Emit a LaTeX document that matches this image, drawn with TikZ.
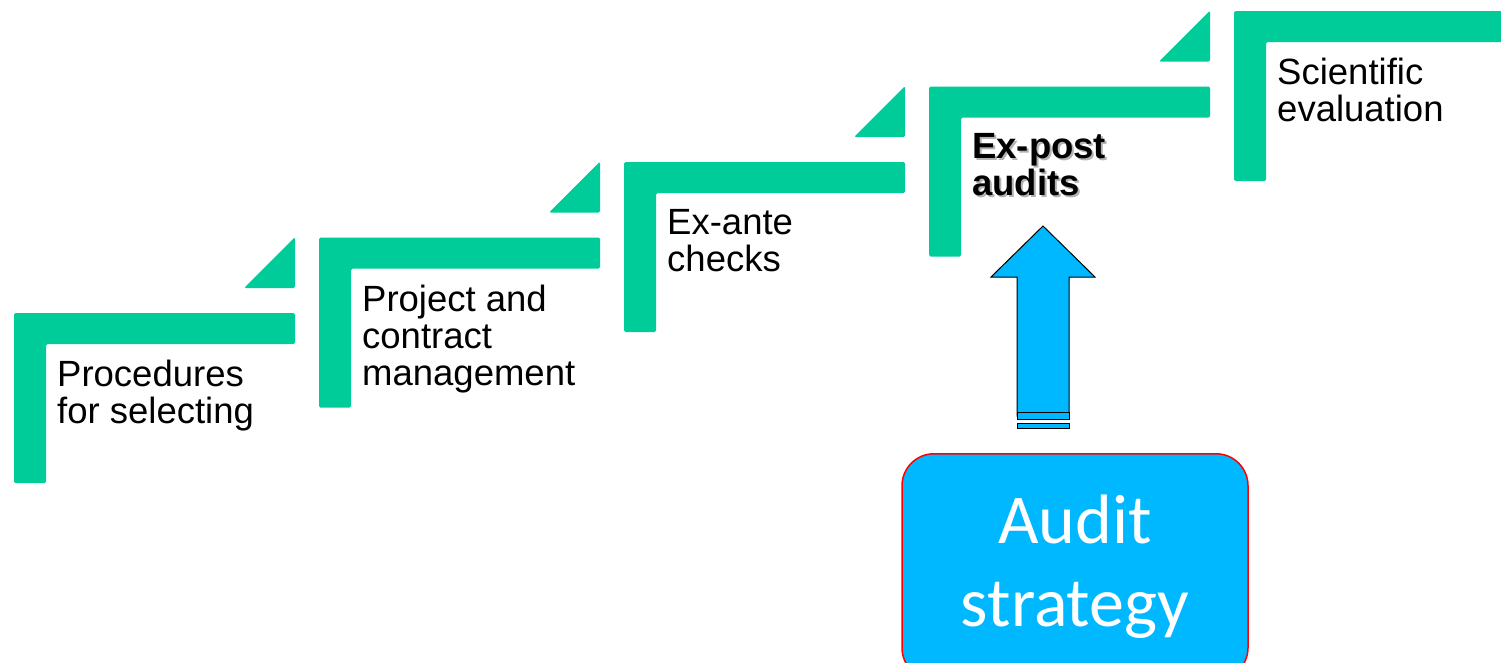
\documentclass[tikz,border=0pt]{standalone}
\usepackage{fontspec}
\setmainfont{Liberation Sans}
\newfontfamily\boxfont{Carlito}
\usetikzlibrary{positioning,calc}
\definecolor{stepgreen}{RGB}{0,204,153}
\definecolor{auditblue}{RGB}{0,184,255}

\begin{document}
\begin{tikzpicture}[x=1pt, y=-1pt,
    stepbar/.style = {fill=stepgreen, rounded corners=1.5pt},
    stair/.pic = {
        \fill[stepbar] (0,0) -- ++(281,0) -- ++(0,31) -- ++(-249,0) -- ++(0,139) -- ++(-32,0) -- cycle;
        \fill[stepbar] (281,-76) -- ++(0,51) -- ++(-51,0) -- cycle;
    },
    steptext/.style = {anchor=north west, inner sep=0pt, align=left, font=\fontsize{36.5}{37}\selectfont},
    stratbox/.style = {anchor=north, draw=red, line width=1.5pt, fill=auditblue, rounded corners=32pt,
        minimum width=346pt, minimum height=226pt, inner sep=0pt, align=center, text=white,
        font=\boxfont\fontsize{70}{83}\selectfont},
    arrowfill/.style = {draw=black, line width=1pt, fill=auditblue}]
    \clip (0,0) rectangle (1501,662);
    % the stairs
    \pic at (14,313) {stair};
    \pic at (319,237.5) {stair};
    \pic at (624,162) {stair};
    \pic at (929,86.5) {stair};
    \pic at (1234,11) {stair};
    \node[steptext] (select) at (57,360) {Procedures\\for selecting};
    \node[steptext] (project) at (362,284.5) {Project and\\contract\\management};
    \node[steptext] (exante) at (667,209) {Ex-ante\\checks};
    \node[steptext, text=gray!60, font={\fontsize{36.5}{37}\selectfont\bfseries}] (expostshadow) at (974,135.5) {Ex-post\\audits};
    \node[steptext, font={\fontsize{36.5}{37}\selectfont\bfseries}] (expost) at (972,133.5) {Ex-post\\audits};
    \node[steptext] (science) at (1277,58) {Scientific\\evaluation};
    % strategy and its arrow
    \node[stratbox] (audit) at (1075,453) {Audit\\strategy};
    \coordinate (foot) at ([xshift=-32pt, yshift=20pt]audit.north);
    \draw[arrowfill] ([xshift=-26pt, yshift=17pt]foot) -- ++(0,-139) -- ++(-26,0) -- ++(52,-51)
        -- ++(52,51) -- ++(-26,0) -- ++(0,139) -- cycle;
    \draw[arrowfill] ([xshift=-26pt, yshift=14pt]foot) rectangle ++(52,-7);
    \draw[arrowfill] ([xshift=-26pt, yshift=5pt]foot) rectangle ++(52,-5);
\end{tikzpicture}
\end{document}
